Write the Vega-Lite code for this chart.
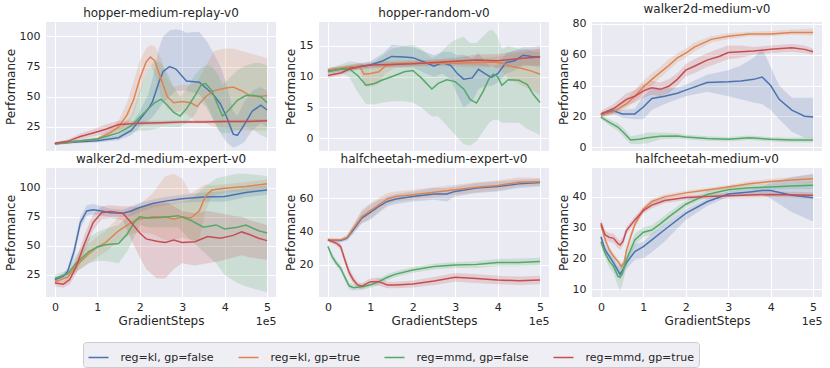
{
"$schema":"https://vega.github.io/schema/vega-lite/v6.json",
"padding":{"left":4,"top":2,"right":6,"bottom":2},
"datasets":{
"names":[{"run":"klF","label":"reg=kl, gp=false"},{"run":"klT","label":"reg=kl, gp=true"},{"run":"mmdF","label":"reg=mmd, gp=false"},{"run":"mmdT","label":"reg=mmd, gp=true"}],
"runs":[
{"env":"hmr","run":"klF","x":0,"y":11,"lo":10,"hi":12},{"env":"hmr","run":"klF","x":0.5,"y":12.5,"lo":11.5,"hi":13.5},{"env":"hmr","run":"klF","x":1,"y":13.5,"lo":12,"hi":15},{"env":"hmr","run":"klF","x":1.5,"y":16,"lo":14,"hi":18},{"env":"hmr","run":"klF","x":1.8,"y":22,"lo":18,"hi":27},{"env":"hmr","run":"klF","x":2,"y":31,"lo":25,"hi":38},{"env":"hmr","run":"klF","x":2.2,"y":40,"lo":30,"hi":52},{"env":"hmr","run":"klF","x":2.3,"y":46,"lo":33,"hi":65},{"env":"hmr","run":"klF","x":2.45,"y":62,"lo":40,"hi":90},{"env":"hmr","run":"klF","x":2.55,"y":71,"lo":45,"hi":100},{"env":"hmr","run":"klF","x":2.7,"y":75,"lo":50,"hi":105},{"env":"hmr","run":"klF","x":2.85,"y":73,"lo":55,"hi":106},{"env":"hmr","run":"klF","x":3,"y":67,"lo":55,"hi":105},{"env":"hmr","run":"klF","x":3.1,"y":63,"lo":55,"hi":103},{"env":"hmr","run":"klF","x":3.4,"y":62,"lo":52,"hi":104},{"env":"hmr","run":"klF","x":3.6,"y":56,"lo":42,"hi":95},{"env":"hmr","run":"klF","x":3.75,"y":51,"lo":30,"hi":85},{"env":"hmr","run":"klF","x":3.9,"y":44,"lo":20,"hi":75},{"env":"hmr","run":"klF","x":4.05,"y":33,"lo":12,"hi":60},{"env":"hmr","run":"klF","x":4.2,"y":19,"lo":8,"hi":38},{"env":"hmr","run":"klF","x":4.3,"y":18,"lo":9,"hi":34},{"env":"hmr","run":"klF","x":4.45,"y":26,"lo":12,"hi":45},{"env":"hmr","run":"klF","x":4.65,"y":38,"lo":22,"hi":55},{"env":"hmr","run":"klF","x":4.85,"y":43,"lo":28,"hi":58},{"env":"hmr","run":"klF","x":5,"y":39,"lo":25,"hi":55},
{"env":"hmr","run":"klT","x":0,"y":11,"lo":10,"hi":12},{"env":"hmr","run":"klT","x":0.5,"y":13,"lo":12,"hi":14},{"env":"hmr","run":"klT","x":1,"y":15,"lo":14,"hi":16},{"env":"hmr","run":"klT","x":1.3,"y":20,"lo":17,"hi":23},{"env":"hmr","run":"klT","x":1.5,"y":25,"lo":20,"hi":30},{"env":"hmr","run":"klT","x":1.7,"y":35,"lo":27,"hi":45},{"env":"hmr","run":"klT","x":1.85,"y":47,"lo":35,"hi":62},{"env":"hmr","run":"klT","x":2,"y":65,"lo":52,"hi":80},{"env":"hmr","run":"klT","x":2.15,"y":79,"lo":68,"hi":90},{"env":"hmr","run":"klT","x":2.25,"y":83,"lo":75,"hi":93},{"env":"hmr","run":"klT","x":2.35,"y":80,"lo":70,"hi":92},{"env":"hmr","run":"klT","x":2.5,"y":65,"lo":50,"hi":82},{"env":"hmr","run":"klT","x":2.65,"y":50,"lo":40,"hi":65},{"env":"hmr","run":"klT","x":2.8,"y":45,"lo":37,"hi":58},{"env":"hmr","run":"klT","x":3,"y":46,"lo":38,"hi":60},{"env":"hmr","run":"klT","x":3.2,"y":45,"lo":33,"hi":60},{"env":"hmr","run":"klT","x":3.35,"y":42,"lo":28,"hi":62},{"env":"hmr","run":"klT","x":3.55,"y":50,"lo":28,"hi":75},{"env":"hmr","run":"klT","x":3.75,"y":55,"lo":25,"hi":88},{"env":"hmr","run":"klT","x":4,"y":57,"lo":24,"hi":90},{"env":"hmr","run":"klT","x":4.2,"y":58,"lo":23,"hi":90},{"env":"hmr","run":"klT","x":4.4,"y":55,"lo":22,"hi":88},{"env":"hmr","run":"klT","x":4.6,"y":51,"lo":22,"hi":86},{"env":"hmr","run":"klT","x":4.8,"y":50,"lo":22,"hi":84},{"env":"hmr","run":"klT","x":5,"y":51,"lo":22,"hi":82},
{"env":"hmr","run":"mmdF","x":0,"y":11,"lo":10,"hi":12},{"env":"hmr","run":"mmdF","x":0.5,"y":13,"lo":12,"hi":14},{"env":"hmr","run":"mmdF","x":1,"y":15,"lo":13.5,"hi":16.5},{"env":"hmr","run":"mmdF","x":1.5,"y":20,"lo":17,"hi":24},{"env":"hmr","run":"mmdF","x":1.8,"y":26,"lo":20,"hi":34},{"env":"hmr","run":"mmdF","x":2,"y":33,"lo":22,"hi":55},{"env":"hmr","run":"mmdF","x":2.2,"y":40,"lo":22,"hi":72},{"env":"hmr","run":"mmdF","x":2.35,"y":45,"lo":23,"hi":80},{"env":"hmr","run":"mmdF","x":2.5,"y":48,"lo":25,"hi":78},{"env":"hmr","run":"mmdF","x":2.65,"y":43,"lo":25,"hi":70},{"env":"hmr","run":"mmdF","x":2.8,"y":37,"lo":25,"hi":58},{"env":"hmr","run":"mmdF","x":2.95,"y":34,"lo":25,"hi":50},{"env":"hmr","run":"mmdF","x":3.1,"y":40,"lo":28,"hi":56},{"env":"hmr","run":"mmdF","x":3.3,"y":51,"lo":35,"hi":68},{"env":"hmr","run":"mmdF","x":3.45,"y":60,"lo":45,"hi":74},{"env":"hmr","run":"mmdF","x":3.55,"y":61,"lo":42,"hi":76},{"env":"hmr","run":"mmdF","x":3.7,"y":55,"lo":33,"hi":75},{"env":"hmr","run":"mmdF","x":3.85,"y":42,"lo":22,"hi":68},{"env":"hmr","run":"mmdF","x":3.95,"y":34,"lo":20,"hi":60},{"env":"hmr","run":"mmdF","x":4.1,"y":39,"lo":20,"hi":65},{"env":"hmr","run":"mmdF","x":4.3,"y":47,"lo":22,"hi":72},{"env":"hmr","run":"mmdF","x":4.5,"y":51,"lo":25,"hi":76},{"env":"hmr","run":"mmdF","x":4.7,"y":51,"lo":22,"hi":78},{"env":"hmr","run":"mmdF","x":4.85,"y":50,"lo":18,"hi":78},{"env":"hmr","run":"mmdF","x":5,"y":45,"lo":16,"hi":76},
{"env":"hmr","run":"mmdT","x":0,"y":11.5,"lo":10.5,"hi":12.5},{"env":"hmr","run":"mmdT","x":0.3,"y":13,"lo":11.5,"hi":14.5},{"env":"hmr","run":"mmdT","x":0.6,"y":17,"lo":14.5,"hi":19.5},{"env":"hmr","run":"mmdT","x":0.9,"y":20,"lo":17,"hi":23},{"env":"hmr","run":"mmdT","x":1.2,"y":23,"lo":19,"hi":27},{"env":"hmr","run":"mmdT","x":1.5,"y":27,"lo":23,"hi":30},{"env":"hmr","run":"mmdT","x":2,"y":28,"lo":26,"hi":30},{"env":"hmr","run":"mmdT","x":2.5,"y":28.5,"lo":27,"hi":30},{"env":"hmr","run":"mmdT","x":3,"y":29,"lo":28,"hi":30.5},{"env":"hmr","run":"mmdT","x":3.5,"y":29,"lo":28,"hi":30.5},{"env":"hmr","run":"mmdT","x":4,"y":29.5,"lo":28.5,"hi":31},{"env":"hmr","run":"mmdT","x":4.5,"y":29.5,"lo":28.5,"hi":31},{"env":"hmr","run":"mmdT","x":5,"y":30,"lo":29,"hi":31.5},
{"env":"hr","run":"klF","x":0,"y":11,"lo":10.6,"hi":11.4},{"env":"hr","run":"klF","x":0.5,"y":11.4,"lo":11,"hi":11.9},{"env":"hr","run":"klF","x":1,"y":11.9,"lo":11.3,"hi":12.5},{"env":"hr","run":"klF","x":1.3,"y":12.6,"lo":11.5,"hi":13.8},{"env":"hr","run":"klF","x":1.5,"y":13.3,"lo":11.5,"hi":15.2},{"env":"hr","run":"klF","x":1.8,"y":13.2,"lo":11.5,"hi":15},{"env":"hr","run":"klF","x":2,"y":13.1,"lo":11.5,"hi":14.8},{"env":"hr","run":"klF","x":2.3,"y":12.3,"lo":10.5,"hi":14},{"env":"hr","run":"klF","x":2.5,"y":11.7,"lo":10,"hi":13.5},{"env":"hr","run":"klF","x":2.7,"y":12.3,"lo":10.5,"hi":14},{"env":"hr","run":"klF","x":2.9,"y":11.8,"lo":9.5,"hi":14},{"env":"hr","run":"klF","x":3.05,"y":10.5,"lo":7,"hi":13.5},{"env":"hr","run":"klF","x":3.2,"y":9.6,"lo":5,"hi":13.6},{"env":"hr","run":"klF","x":3.4,"y":9.8,"lo":6,"hi":13},{"env":"hr","run":"klF","x":3.55,"y":11.2,"lo":8,"hi":13.8},{"env":"hr","run":"klF","x":3.7,"y":10.5,"lo":8.5,"hi":12.5},{"env":"hr","run":"klF","x":3.85,"y":9.9,"lo":8.5,"hi":11.5},{"env":"hr","run":"klF","x":4,"y":10.5,"lo":9,"hi":12},{"env":"hr","run":"klF","x":4.2,"y":12.3,"lo":10.5,"hi":13.8},{"env":"hr","run":"klF","x":4.4,"y":12.6,"lo":11,"hi":14.3},{"env":"hr","run":"klF","x":4.6,"y":13.5,"lo":12,"hi":14.8},{"env":"hr","run":"klF","x":4.8,"y":13.3,"lo":11.8,"hi":14.8},{"env":"hr","run":"klF","x":5,"y":13.2,"lo":11.5,"hi":15},
{"env":"hr","run":"klT","x":0,"y":11.1,"lo":10.8,"hi":11.4},{"env":"hr","run":"klT","x":0.5,"y":11.6,"lo":11.2,"hi":12},{"env":"hr","run":"klT","x":0.75,"y":11.7,"lo":11.2,"hi":12.2},{"env":"hr","run":"klT","x":0.85,"y":10.4,"lo":8.5,"hi":12},{"env":"hr","run":"klT","x":1,"y":10.5,"lo":8.3,"hi":12},{"env":"hr","run":"klT","x":1.2,"y":10.8,"lo":8.8,"hi":12.5},{"env":"hr","run":"klT","x":1.35,"y":11.7,"lo":10.5,"hi":12.5},{"env":"hr","run":"klT","x":1.6,"y":12.1,"lo":11.5,"hi":12.6},{"env":"hr","run":"klT","x":2,"y":12.2,"lo":11.7,"hi":12.7},{"env":"hr","run":"klT","x":2.5,"y":12.2,"lo":11.7,"hi":12.7},{"env":"hr","run":"klT","x":3,"y":12.2,"lo":11.6,"hi":12.8},{"env":"hr","run":"klT","x":3.5,"y":12.3,"lo":11.5,"hi":13},{"env":"hr","run":"klT","x":3.9,"y":12.4,"lo":11.6,"hi":13.2},{"env":"hr","run":"klT","x":4.1,"y":12.2,"lo":10.8,"hi":13.4},{"env":"hr","run":"klT","x":4.3,"y":11.7,"lo":9.5,"hi":13.6},{"env":"hr","run":"klT","x":4.6,"y":11.3,"lo":8.5,"hi":14},{"env":"hr","run":"klT","x":4.8,"y":10.9,"lo":7.8,"hi":14.2},{"env":"hr","run":"klT","x":5,"y":10.4,"lo":7,"hi":14.5},
{"env":"hr","run":"mmdF","x":0,"y":10.8,"lo":10.4,"hi":11.2},{"env":"hr","run":"mmdF","x":0.3,"y":11.2,"lo":10.5,"hi":12},{"env":"hr","run":"mmdF","x":0.5,"y":11.3,"lo":10,"hi":12.5},{"env":"hr","run":"mmdF","x":0.7,"y":10.2,"lo":7.5,"hi":12.3},{"env":"hr","run":"mmdF","x":0.9,"y":8.6,"lo":5.5,"hi":12},{"env":"hr","run":"mmdF","x":1.1,"y":8.9,"lo":5.5,"hi":12.5},{"env":"hr","run":"mmdF","x":1.3,"y":9.5,"lo":5.8,"hi":13.5},{"env":"hr","run":"mmdF","x":1.5,"y":10,"lo":6,"hi":14.5},{"env":"hr","run":"mmdF","x":1.8,"y":10.8,"lo":6,"hi":15},{"env":"hr","run":"mmdF","x":2,"y":11,"lo":5.8,"hi":15.2},{"env":"hr","run":"mmdF","x":2.2,"y":9.8,"lo":5,"hi":14.5},{"env":"hr","run":"mmdF","x":2.45,"y":8,"lo":3.5,"hi":13},{"env":"hr","run":"mmdF","x":2.6,"y":8.9,"lo":3.5,"hi":13.5},{"env":"hr","run":"mmdF","x":2.8,"y":9.5,"lo":2,"hi":15},{"env":"hr","run":"mmdF","x":3,"y":9.2,"lo":0.5,"hi":16},{"env":"hr","run":"mmdF","x":3.2,"y":8,"lo":-1,"hi":16.5},{"env":"hr","run":"mmdF","x":3.35,"y":6.3,"lo":-1.2,"hi":15.5},{"env":"hr","run":"mmdF","x":3.5,"y":5.7,"lo":-0.5,"hi":15.5},{"env":"hr","run":"mmdF","x":3.65,"y":7.5,"lo":1,"hi":16.5},{"env":"hr","run":"mmdF","x":3.8,"y":9.7,"lo":2.5,"hi":17.5},{"env":"hr","run":"mmdF","x":3.9,"y":10.4,"lo":3,"hi":17.5},{"env":"hr","run":"mmdF","x":4,"y":10,"lo":3,"hi":16.5},{"env":"hr","run":"mmdF","x":4.1,"y":8.6,"lo":2.5,"hi":14.5},{"env":"hr","run":"mmdF","x":4.25,"y":9.5,"lo":2.5,"hi":15},{"env":"hr","run":"mmdF","x":4.5,"y":9.4,"lo":2.5,"hi":14.5},{"env":"hr","run":"mmdF","x":4.7,"y":8.7,"lo":1.5,"hi":14.5},{"env":"hr","run":"mmdF","x":4.85,"y":7,"lo":1,"hi":14},{"env":"hr","run":"mmdF","x":5,"y":5.8,"lo":0.5,"hi":14},
{"env":"hr","run":"mmdT","x":0,"y":10.2,"lo":9.8,"hi":10.6},{"env":"hr","run":"mmdT","x":0.3,"y":10.6,"lo":10.2,"hi":11},{"env":"hr","run":"mmdT","x":0.5,"y":11.2,"lo":10.8,"hi":11.6},{"env":"hr","run":"mmdT","x":0.8,"y":11.7,"lo":11.3,"hi":12.1},{"env":"hr","run":"mmdT","x":1,"y":11.9,"lo":11.5,"hi":12.3},{"env":"hr","run":"mmdT","x":1.5,"y":12,"lo":11.6,"hi":12.4},{"env":"hr","run":"mmdT","x":2,"y":12.1,"lo":11.7,"hi":12.5},{"env":"hr","run":"mmdT","x":2.5,"y":12.3,"lo":11.8,"hi":12.8},{"env":"hr","run":"mmdT","x":3,"y":12.5,"lo":11.9,"hi":13.1},{"env":"hr","run":"mmdT","x":3.5,"y":12.7,"lo":11.8,"hi":13.6},{"env":"hr","run":"mmdT","x":4,"y":12.6,"lo":11.5,"hi":13.7},{"env":"hr","run":"mmdT","x":4.3,"y":12.8,"lo":11.5,"hi":14},{"env":"hr","run":"mmdT","x":4.6,"y":13,"lo":11.7,"hi":14.3},{"env":"hr","run":"mmdT","x":5,"y":13.2,"lo":11.8,"hi":14.6},
{"env":"wm","run":"klF","x":0,"y":21,"lo":19.5,"hi":22.5},{"env":"wm","run":"klF","x":0.3,"y":23.5,"lo":21.5,"hi":25.5},{"env":"wm","run":"klF","x":0.5,"y":21.5,"lo":19,"hi":24},{"env":"wm","run":"klF","x":0.8,"y":21.5,"lo":18,"hi":25},{"env":"wm","run":"klF","x":1,"y":26,"lo":18,"hi":33},{"env":"wm","run":"klF","x":1.2,"y":31.5,"lo":24,"hi":38},{"env":"wm","run":"klF","x":1.5,"y":33,"lo":28,"hi":38},{"env":"wm","run":"klF","x":1.8,"y":35,"lo":31,"hi":38.5},{"env":"wm","run":"klF","x":2,"y":37,"lo":33,"hi":40.5},{"env":"wm","run":"klF","x":2.5,"y":42,"lo":36,"hi":47},{"env":"wm","run":"klF","x":3,"y":42.5,"lo":33,"hi":50},{"env":"wm","run":"klF","x":3.3,"y":43,"lo":31,"hi":53},{"env":"wm","run":"klF","x":3.6,"y":44,"lo":29,"hi":58},{"env":"wm","run":"klF","x":3.8,"y":45.5,"lo":28,"hi":64},{"env":"wm","run":"klF","x":4,"y":40,"lo":24,"hi":52},{"env":"wm","run":"klF","x":4.2,"y":31,"lo":18,"hi":40},{"env":"wm","run":"klF","x":4.5,"y":24,"lo":10,"hi":32},{"env":"wm","run":"klF","x":4.8,"y":20,"lo":6,"hi":32},{"env":"wm","run":"klF","x":5,"y":19.5,"lo":6,"hi":32},
{"env":"wm","run":"klT","x":0,"y":21,"lo":19.5,"hi":22.5},{"env":"wm","run":"klT","x":0.3,"y":23,"lo":21,"hi":25},{"env":"wm","run":"klT","x":0.6,"y":28,"lo":25,"hi":31},{"env":"wm","run":"klT","x":0.8,"y":33,"lo":30,"hi":37},{"env":"wm","run":"klT","x":1,"y":39,"lo":35,"hi":43},{"env":"wm","run":"klT","x":1.2,"y":44,"lo":40,"hi":48},{"env":"wm","run":"klT","x":1.4,"y":48.5,"lo":45,"hi":52},{"env":"wm","run":"klT","x":1.6,"y":53,"lo":50,"hi":57},{"env":"wm","run":"klT","x":1.8,"y":58,"lo":55,"hi":61},{"env":"wm","run":"klT","x":2,"y":61,"lo":58,"hi":64},{"env":"wm","run":"klT","x":2.2,"y":65,"lo":62,"hi":68},{"env":"wm","run":"klT","x":2.6,"y":70,"lo":68,"hi":72},{"env":"wm","run":"klT","x":3,"y":72,"lo":70,"hi":74},{"env":"wm","run":"klT","x":3.5,"y":73.5,"lo":72,"hi":75},{"env":"wm","run":"klT","x":4,"y":73.5,"lo":72,"hi":75.5},{"env":"wm","run":"klT","x":4.5,"y":74.5,"lo":73,"hi":76.5},{"env":"wm","run":"klT","x":5,"y":74.5,"lo":72.5,"hi":77},
{"env":"wm","run":"mmdF","x":0,"y":19.5,"lo":18,"hi":21},{"env":"wm","run":"mmdF","x":0.2,"y":16,"lo":14,"hi":18},{"env":"wm","run":"mmdF","x":0.4,"y":13,"lo":10.5,"hi":15.5},{"env":"wm","run":"mmdF","x":0.55,"y":9,"lo":6,"hi":12},{"env":"wm","run":"mmdF","x":0.7,"y":4.5,"lo":2,"hi":7},{"env":"wm","run":"mmdF","x":0.9,"y":5,"lo":2,"hi":8},{"env":"wm","run":"mmdF","x":1.1,"y":6,"lo":2.5,"hi":9.5},{"env":"wm","run":"mmdF","x":1.4,"y":7,"lo":5,"hi":9.5},{"env":"wm","run":"mmdF","x":1.8,"y":7.2,"lo":5.5,"hi":9},{"env":"wm","run":"mmdF","x":2,"y":6.5,"lo":5,"hi":8},{"env":"wm","run":"mmdF","x":2.5,"y":5.5,"lo":4,"hi":7},{"env":"wm","run":"mmdF","x":3,"y":5,"lo":3.5,"hi":6.5},{"env":"wm","run":"mmdF","x":3.5,"y":6,"lo":4.5,"hi":7.5},{"env":"wm","run":"mmdF","x":4,"y":5,"lo":3.5,"hi":6.5},{"env":"wm","run":"mmdF","x":4.5,"y":4.5,"lo":3,"hi":6},{"env":"wm","run":"mmdF","x":5,"y":4.5,"lo":3,"hi":6.5},
{"env":"wm","run":"mmdT","x":0,"y":21.5,"lo":19.5,"hi":23.5},{"env":"wm","run":"mmdT","x":0.3,"y":25,"lo":22,"hi":28},{"env":"wm","run":"mmdT","x":0.6,"y":31,"lo":27,"hi":35},{"env":"wm","run":"mmdT","x":0.8,"y":33,"lo":29,"hi":37},{"env":"wm","run":"mmdT","x":1,"y":36.5,"lo":32,"hi":41},{"env":"wm","run":"mmdT","x":1.2,"y":38.5,"lo":34,"hi":43},{"env":"wm","run":"mmdT","x":1.4,"y":37.5,"lo":33,"hi":42},{"env":"wm","run":"mmdT","x":1.6,"y":39.5,"lo":35,"hi":44},{"env":"wm","run":"mmdT","x":1.8,"y":44,"lo":40,"hi":48},{"env":"wm","run":"mmdT","x":2,"y":50,"lo":46,"hi":54},{"env":"wm","run":"mmdT","x":2.2,"y":52.5,"lo":48,"hi":57},{"env":"wm","run":"mmdT","x":2.5,"y":56.5,"lo":52,"hi":61},{"env":"wm","run":"mmdT","x":2.8,"y":59,"lo":55,"hi":64},{"env":"wm","run":"mmdT","x":3,"y":61.5,"lo":57,"hi":66},{"env":"wm","run":"mmdT","x":3.3,"y":62,"lo":58,"hi":66},{"env":"wm","run":"mmdT","x":3.6,"y":62.5,"lo":60,"hi":65},{"env":"wm","run":"mmdT","x":4,"y":63.5,"lo":61,"hi":66},{"env":"wm","run":"mmdT","x":4.5,"y":64.5,"lo":62,"hi":67},{"env":"wm","run":"mmdT","x":4.8,"y":63.5,"lo":61,"hi":66},{"env":"wm","run":"mmdT","x":5,"y":62,"lo":60,"hi":64},
{"env":"wme","run":"klF","x":0,"y":21,"lo":19,"hi":23},{"env":"wme","run":"klF","x":0.2,"y":24,"lo":22,"hi":26},{"env":"wme","run":"klF","x":0.3,"y":28,"lo":25,"hi":31},{"env":"wme","run":"klF","x":0.45,"y":45,"lo":40,"hi":50},{"env":"wme","run":"klF","x":0.6,"y":70,"lo":65,"hi":75},{"env":"wme","run":"klF","x":0.75,"y":80,"lo":76,"hi":85},{"env":"wme","run":"klF","x":0.9,"y":81,"lo":77,"hi":86},{"env":"wme","run":"klF","x":1.1,"y":80,"lo":76,"hi":84},{"env":"wme","run":"klF","x":1.3,"y":78.5,"lo":75,"hi":82},{"env":"wme","run":"klF","x":1.6,"y":78,"lo":75,"hi":81},{"env":"wme","run":"klF","x":1.8,"y":80,"lo":76,"hi":84},{"env":"wme","run":"klF","x":2,"y":83,"lo":79,"hi":87},{"env":"wme","run":"klF","x":2.3,"y":86.5,"lo":83,"hi":90},{"env":"wme","run":"klF","x":2.6,"y":88.5,"lo":85,"hi":92},{"env":"wme","run":"klF","x":3,"y":90.5,"lo":87,"hi":94},{"env":"wme","run":"klF","x":3.5,"y":92,"lo":88,"hi":96},{"env":"wme","run":"klF","x":4,"y":92.5,"lo":88,"hi":97},{"env":"wme","run":"klF","x":4.5,"y":96,"lo":92,"hi":100},{"env":"wme","run":"klF","x":5,"y":98,"lo":94,"hi":102},
{"env":"wme","run":"klT","x":0,"y":19,"lo":17,"hi":21},{"env":"wme","run":"klT","x":0.3,"y":23,"lo":20,"hi":26},{"env":"wme","run":"klT","x":0.5,"y":33,"lo":27,"hi":39},{"env":"wme","run":"klT","x":0.8,"y":43,"lo":35,"hi":52},{"env":"wme","run":"klT","x":1,"y":49,"lo":40,"hi":58},{"env":"wme","run":"klT","x":1.2,"y":53,"lo":45,"hi":63},{"env":"wme","run":"klT","x":1.5,"y":63,"lo":54,"hi":75},{"env":"wme","run":"klT","x":1.8,"y":70,"lo":60,"hi":82},{"env":"wme","run":"klT","x":2,"y":73,"lo":62,"hi":86},{"env":"wme","run":"klT","x":2.3,"y":75,"lo":60,"hi":95},{"env":"wme","run":"klT","x":2.6,"y":75,"lo":55,"hi":110},{"env":"wme","run":"klT","x":2.8,"y":73,"lo":55,"hi":112},{"env":"wme","run":"klT","x":3,"y":75,"lo":57,"hi":108},{"env":"wme","run":"klT","x":3.2,"y":74,"lo":55,"hi":95},{"env":"wme","run":"klT","x":3.4,"y":80,"lo":55,"hi":100},{"env":"wme","run":"klT","x":3.55,"y":93,"lo":80,"hi":103},{"env":"wme","run":"klT","x":3.7,"y":98,"lo":93,"hi":102},{"env":"wme","run":"klT","x":4,"y":99.5,"lo":96,"hi":103},{"env":"wme","run":"klT","x":4.5,"y":101,"lo":97,"hi":105},{"env":"wme","run":"klT","x":5,"y":103.5,"lo":99,"hi":107},
{"env":"wme","run":"mmdF","x":0,"y":22,"lo":19,"hi":25},{"env":"wme","run":"mmdF","x":0.3,"y":26,"lo":23,"hi":29},{"env":"wme","run":"mmdF","x":0.5,"y":35,"lo":28,"hi":42},{"env":"wme","run":"mmdF","x":0.8,"y":45,"lo":35,"hi":57},{"env":"wme","run":"mmdF","x":1,"y":49,"lo":37,"hi":62},{"env":"wme","run":"mmdF","x":1.2,"y":51,"lo":37,"hi":65},{"env":"wme","run":"mmdF","x":1.5,"y":52,"lo":35,"hi":68},{"env":"wme","run":"mmdF","x":1.7,"y":60,"lo":45,"hi":75},{"env":"wme","run":"mmdF","x":1.9,"y":72,"lo":60,"hi":84},{"env":"wme","run":"mmdF","x":2,"y":75,"lo":68,"hi":83},{"env":"wme","run":"mmdF","x":2.2,"y":74,"lo":66,"hi":85},{"env":"wme","run":"mmdF","x":2.5,"y":74.5,"lo":66,"hi":86},{"env":"wme","run":"mmdF","x":2.9,"y":76,"lo":66,"hi":87},{"env":"wme","run":"mmdF","x":3.2,"y":72,"lo":55,"hi":90},{"env":"wme","run":"mmdF","x":3.5,"y":66,"lo":45,"hi":100},{"env":"wme","run":"mmdF","x":3.8,"y":68,"lo":35,"hi":108},{"env":"wme","run":"mmdF","x":4,"y":64.5,"lo":25,"hi":110},{"env":"wme","run":"mmdF","x":4.3,"y":66,"lo":18,"hi":112},{"env":"wme","run":"mmdF","x":4.5,"y":68,"lo":15,"hi":112},{"env":"wme","run":"mmdF","x":4.8,"y":63,"lo":12,"hi":111},{"env":"wme","run":"mmdF","x":5,"y":61,"lo":10,"hi":110},
{"env":"wme","run":"mmdT","x":0,"y":18,"lo":15,"hi":21},{"env":"wme","run":"mmdT","x":0.2,"y":17,"lo":14,"hi":20},{"env":"wme","run":"mmdT","x":0.35,"y":21,"lo":17,"hi":25},{"env":"wme","run":"mmdT","x":0.5,"y":32,"lo":26,"hi":38},{"env":"wme","run":"mmdT","x":0.7,"y":52,"lo":45,"hi":60},{"env":"wme","run":"mmdT","x":0.9,"y":70,"lo":63,"hi":77},{"env":"wme","run":"mmdT","x":1.1,"y":78.5,"lo":73,"hi":84},{"env":"wme","run":"mmdT","x":1.3,"y":79.5,"lo":74,"hi":85},{"env":"wme","run":"mmdT","x":1.6,"y":78,"lo":72,"hi":84},{"env":"wme","run":"mmdT","x":1.8,"y":70,"lo":55,"hi":84},{"env":"wme","run":"mmdT","x":2,"y":61,"lo":40,"hi":82},{"env":"wme","run":"mmdT","x":2.15,"y":56,"lo":30,"hi":85},{"env":"wme","run":"mmdT","x":2.4,"y":54,"lo":22,"hi":87},{"env":"wme","run":"mmdT","x":2.6,"y":53,"lo":22,"hi":88},{"env":"wme","run":"mmdT","x":2.8,"y":55,"lo":30,"hi":84},{"env":"wme","run":"mmdT","x":3,"y":53,"lo":35,"hi":80},{"env":"wme","run":"mmdT","x":3.3,"y":53.5,"lo":33,"hi":78},{"env":"wme","run":"mmdT","x":3.6,"y":58,"lo":35,"hi":80},{"env":"wme","run":"mmdT","x":3.9,"y":56.5,"lo":37,"hi":78},{"env":"wme","run":"mmdT","x":4.2,"y":59,"lo":40,"hi":76},{"env":"wme","run":"mmdT","x":4.4,"y":62,"lo":42,"hi":75},{"env":"wme","run":"mmdT","x":4.6,"y":59.5,"lo":40,"hi":72},{"env":"wme","run":"mmdT","x":4.8,"y":56.5,"lo":39,"hi":70},{"env":"wme","run":"mmdT","x":5,"y":54.5,"lo":38,"hi":68},
{"env":"hme","run":"klF","x":0,"y":35,"lo":34,"hi":36},{"env":"hme","run":"klF","x":0.3,"y":34.6,"lo":33.5,"hi":35.5},{"env":"hme","run":"klF","x":0.45,"y":36,"lo":34.5,"hi":37.5},{"env":"hme","run":"klF","x":0.6,"y":41,"lo":38.5,"hi":43.5},{"env":"hme","run":"klF","x":0.8,"y":48,"lo":45,"hi":52},{"env":"hme","run":"klF","x":1,"y":51.5,"lo":47,"hi":56},{"env":"hme","run":"klF","x":1.2,"y":55,"lo":51,"hi":59},{"env":"hme","run":"klF","x":1.4,"y":58,"lo":55,"hi":61},{"env":"hme","run":"klF","x":1.6,"y":59.5,"lo":56.5,"hi":62.5},{"env":"hme","run":"klF","x":2,"y":61,"lo":58,"hi":64},{"env":"hme","run":"klF","x":2.5,"y":62.5,"lo":59,"hi":66},{"env":"hme","run":"klF","x":2.8,"y":62.5,"lo":58,"hi":66},{"env":"hme","run":"klF","x":3,"y":64,"lo":61,"hi":67},{"env":"hme","run":"klF","x":3.5,"y":66,"lo":63,"hi":69},{"env":"hme","run":"klF","x":4,"y":67,"lo":64,"hi":70},{"env":"hme","run":"klF","x":4.5,"y":68.5,"lo":66,"hi":71},{"env":"hme","run":"klF","x":5,"y":69.3,"lo":67,"hi":71.5},
{"env":"hme","run":"klT","x":0,"y":35,"lo":34,"hi":36},{"env":"hme","run":"klT","x":0.3,"y":35,"lo":34,"hi":36},{"env":"hme","run":"klT","x":0.45,"y":36.5,"lo":35,"hi":38},{"env":"hme","run":"klT","x":0.6,"y":42,"lo":39.5,"hi":44.5},{"env":"hme","run":"klT","x":0.8,"y":49,"lo":45,"hi":53},{"env":"hme","run":"klT","x":1,"y":52.5,"lo":48,"hi":57},{"env":"hme","run":"klT","x":1.2,"y":56,"lo":52,"hi":60},{"env":"hme","run":"klT","x":1.4,"y":59.5,"lo":56,"hi":63},{"env":"hme","run":"klT","x":1.6,"y":61,"lo":58,"hi":64},{"env":"hme","run":"klT","x":2,"y":62,"lo":59,"hi":65},{"env":"hme","run":"klT","x":2.5,"y":63.5,"lo":60.5,"hi":66.5},{"env":"hme","run":"klT","x":3,"y":65,"lo":62,"hi":68},{"env":"hme","run":"klT","x":3.5,"y":66.5,"lo":63.5,"hi":69.5},{"env":"hme","run":"klT","x":4,"y":67.5,"lo":64.5,"hi":70.5},{"env":"hme","run":"klT","x":4.5,"y":69.5,"lo":67,"hi":72.5},{"env":"hme","run":"klT","x":5,"y":69.7,"lo":67.5,"hi":72},
{"env":"hme","run":"mmdF","x":0,"y":31,"lo":29.5,"hi":32.5},{"env":"hme","run":"mmdF","x":0.1,"y":25,"lo":23,"hi":27},{"env":"hme","run":"mmdF","x":0.2,"y":21,"lo":19,"hi":23},{"env":"hme","run":"mmdF","x":0.3,"y":18,"lo":16,"hi":20},{"env":"hme","run":"mmdF","x":0.4,"y":12.5,"lo":10.5,"hi":14.5},{"env":"hme","run":"mmdF","x":0.5,"y":7.5,"lo":5.5,"hi":9.5},{"env":"hme","run":"mmdF","x":0.6,"y":6.4,"lo":4.5,"hi":8.3},{"env":"hme","run":"mmdF","x":0.8,"y":7,"lo":5.2,"hi":8.8},{"env":"hme","run":"mmdF","x":1,"y":8,"lo":6.2,"hi":9.8},{"env":"hme","run":"mmdF","x":1.2,"y":10,"lo":8.2,"hi":11.8},{"env":"hme","run":"mmdF","x":1.4,"y":12.6,"lo":10.8,"hi":14.4},{"env":"hme","run":"mmdF","x":1.6,"y":14.5,"lo":12.8,"hi":16.2},{"env":"hme","run":"mmdF","x":2,"y":17,"lo":15.3,"hi":18.7},{"env":"hme","run":"mmdF","x":2.5,"y":19,"lo":17.3,"hi":20.7},{"env":"hme","run":"mmdF","x":3,"y":20,"lo":18.2,"hi":21.8},{"env":"hme","run":"mmdF","x":3.5,"y":20.2,"lo":18.2,"hi":22.2},{"env":"hme","run":"mmdF","x":4,"y":21.4,"lo":19.2,"hi":23.6},{"env":"hme","run":"mmdF","x":4.5,"y":21.5,"lo":19.2,"hi":23.8},{"env":"hme","run":"mmdF","x":5,"y":22,"lo":19.7,"hi":24.3},
{"env":"hme","run":"mmdT","x":0,"y":35,"lo":34,"hi":36},{"env":"hme","run":"mmdT","x":0.2,"y":33,"lo":31.5,"hi":34.5},{"env":"hme","run":"mmdT","x":0.3,"y":31,"lo":29,"hi":33},{"env":"hme","run":"mmdT","x":0.4,"y":23,"lo":20.5,"hi":25.5},{"env":"hme","run":"mmdT","x":0.5,"y":15.5,"lo":13,"hi":18},{"env":"hme","run":"mmdT","x":0.6,"y":11,"lo":8.5,"hi":13.5},{"env":"hme","run":"mmdT","x":0.7,"y":8,"lo":6,"hi":10},{"env":"hme","run":"mmdT","x":0.8,"y":7.2,"lo":5.5,"hi":9},{"env":"hme","run":"mmdT","x":1,"y":10,"lo":8,"hi":12},{"env":"hme","run":"mmdT","x":1.2,"y":10,"lo":7.5,"hi":12.5},{"env":"hme","run":"mmdT","x":1.4,"y":8,"lo":6,"hi":10},{"env":"hme","run":"mmdT","x":1.6,"y":8,"lo":6,"hi":10},{"env":"hme","run":"mmdT","x":2,"y":8.6,"lo":6.5,"hi":10.7},{"env":"hme","run":"mmdT","x":2.5,"y":10.4,"lo":8,"hi":12.8},{"env":"hme","run":"mmdT","x":3,"y":12.6,"lo":10,"hi":15.2},{"env":"hme","run":"mmdT","x":3.5,"y":11.8,"lo":9.2,"hi":14.4},{"env":"hme","run":"mmdT","x":4,"y":11,"lo":8.5,"hi":13.5},{"env":"hme","run":"mmdT","x":4.5,"y":10.5,"lo":8,"hi":13},{"env":"hme","run":"mmdT","x":5,"y":11,"lo":8.5,"hi":13.5},
{"env":"hm","run":"klF","x":0,"y":27,"lo":25.5,"hi":28.5},{"env":"hm","run":"klF","x":0.1,"y":22.7,"lo":21,"hi":24.4},{"env":"hm","run":"klF","x":0.2,"y":20.6,"lo":19,"hi":22.2},{"env":"hm","run":"klF","x":0.3,"y":18.4,"lo":16.8,"hi":20},{"env":"hm","run":"klF","x":0.45,"y":14.8,"lo":13,"hi":16.6},{"env":"hm","run":"klF","x":0.52,"y":16.3,"lo":14.5,"hi":18.1},{"env":"hm","run":"klF","x":0.6,"y":18.5,"lo":16.5,"hi":20.5},{"env":"hm","run":"klF","x":0.8,"y":22.2,"lo":19.5,"hi":24.5},{"env":"hm","run":"klF","x":1,"y":23.8,"lo":20,"hi":25.5},{"env":"hm","run":"klF","x":1.2,"y":26,"lo":22,"hi":28},{"env":"hm","run":"klF","x":1.5,"y":29.3,"lo":25.5,"hi":31},{"env":"hm","run":"klF","x":2,"y":34.6,"lo":32.5,"hi":36},{"env":"hm","run":"klF","x":2.5,"y":38.4,"lo":37,"hi":39.5},{"env":"hm","run":"klF","x":3,"y":40.9,"lo":40,"hi":41.8},{"env":"hm","run":"klF","x":3.5,"y":41.6,"lo":40.6,"hi":42.6},{"env":"hm","run":"klF","x":3.8,"y":42.1,"lo":40.8,"hi":43.4},{"env":"hm","run":"klF","x":4,"y":42.1,"lo":39.5,"hi":44.5},{"env":"hm","run":"klF","x":4.5,"y":40.5,"lo":35,"hi":46.5},{"env":"hm","run":"klF","x":5,"y":39.7,"lo":32,"hi":47.5},
{"env":"hm","run":"klT","x":0,"y":30.8,"lo":29.5,"hi":32},{"env":"hm","run":"klT","x":0.1,"y":26,"lo":25,"hi":27},{"env":"hm","run":"klT","x":0.2,"y":22.7,"lo":21.7,"hi":23.7},{"env":"hm","run":"klT","x":0.3,"y":20.6,"lo":19.6,"hi":21.6},{"env":"hm","run":"klT","x":0.4,"y":19,"lo":18,"hi":20},{"env":"hm","run":"klT","x":0.48,"y":17.3,"lo":16.3,"hi":18.3},{"env":"hm","run":"klT","x":0.55,"y":18.5,"lo":17.5,"hi":19.5},{"env":"hm","run":"klT","x":0.6,"y":22.5,"lo":21.3,"hi":23.7},{"env":"hm","run":"klT","x":0.7,"y":27,"lo":25.8,"hi":28.2},{"env":"hm","run":"klT","x":0.8,"y":31,"lo":29.8,"hi":32.2},{"env":"hm","run":"klT","x":1,"y":36,"lo":35,"hi":37},{"env":"hm","run":"klT","x":1.2,"y":38.5,"lo":37.7,"hi":39.3},{"env":"hm","run":"klT","x":1.5,"y":40,"lo":39.2,"hi":40.8},{"env":"hm","run":"klT","x":2,"y":41.3,"lo":40.6,"hi":42},{"env":"hm","run":"klT","x":2.5,"y":42.2,"lo":41.5,"hi":42.9},{"env":"hm","run":"klT","x":3,"y":43.2,"lo":42.5,"hi":43.9},{"env":"hm","run":"klT","x":3.5,"y":44.3,"lo":43.5,"hi":45.1},{"env":"hm","run":"klT","x":4,"y":45,"lo":44.2,"hi":45.8},{"env":"hm","run":"klT","x":4.5,"y":45.5,"lo":44.5,"hi":46.5},{"env":"hm","run":"klT","x":5,"y":45.9,"lo":44.5,"hi":47.3},
{"env":"hm","run":"mmdF","x":0,"y":25.4,"lo":24,"hi":26.8},{"env":"hm","run":"mmdF","x":0.1,"y":21.7,"lo":20,"hi":23.4},{"env":"hm","run":"mmdF","x":0.2,"y":19,"lo":17,"hi":21},{"env":"hm","run":"mmdF","x":0.3,"y":17.3,"lo":15,"hi":19.6},{"env":"hm","run":"mmdF","x":0.4,"y":14.1,"lo":11,"hi":17.2},{"env":"hm","run":"mmdF","x":0.45,"y":13.9,"lo":9.5,"hi":18},{"env":"hm","run":"mmdF","x":0.5,"y":14.8,"lo":11,"hi":18.6},{"env":"hm","run":"mmdF","x":0.6,"y":19.5,"lo":17,"hi":22},{"env":"hm","run":"mmdF","x":0.8,"y":26,"lo":24,"hi":28},{"env":"hm","run":"mmdF","x":1,"y":28.5,"lo":27,"hi":30},{"env":"hm","run":"mmdF","x":1.2,"y":29.2,"lo":27.6,"hi":30.8},{"env":"hm","run":"mmdF","x":1.4,"y":31.2,"lo":29.6,"hi":32.8},{"env":"hm","run":"mmdF","x":1.6,"y":33.5,"lo":32,"hi":35},{"env":"hm","run":"mmdF","x":2,"y":37.6,"lo":36.4,"hi":38.8},{"env":"hm","run":"mmdF","x":2.5,"y":40.8,"lo":39.8,"hi":41.8},{"env":"hm","run":"mmdF","x":3,"y":42.3,"lo":41.4,"hi":43.2},{"env":"hm","run":"mmdF","x":3.5,"y":43,"lo":42.1,"hi":43.9},{"env":"hm","run":"mmdF","x":4,"y":43.2,"lo":42.2,"hi":44.2},{"env":"hm","run":"mmdF","x":4.5,"y":43.5,"lo":42.5,"hi":44.5},{"env":"hm","run":"mmdF","x":5,"y":43.8,"lo":42.6,"hi":45},
{"env":"hm","run":"mmdT","x":0,"y":31.4,"lo":30,"hi":33},{"env":"hm","run":"mmdT","x":0.1,"y":27.6,"lo":26.2,"hi":29},{"env":"hm","run":"mmdT","x":0.2,"y":26.8,"lo":25.4,"hi":28.2},{"env":"hm","run":"mmdT","x":0.3,"y":26.5,"lo":25,"hi":28},{"env":"hm","run":"mmdT","x":0.4,"y":24.8,"lo":23.3,"hi":26.3},{"env":"hm","run":"mmdT","x":0.45,"y":24.3,"lo":22.8,"hi":25.8},{"env":"hm","run":"mmdT","x":0.52,"y":25.5,"lo":24,"hi":27},{"env":"hm","run":"mmdT","x":0.6,"y":29,"lo":27.8,"hi":30.2},{"env":"hm","run":"mmdT","x":0.8,"y":32.5,"lo":31.3,"hi":33.7},{"env":"hm","run":"mmdT","x":1,"y":35.5,"lo":34.5,"hi":36.5},{"env":"hm","run":"mmdT","x":1.2,"y":37.3,"lo":36.3,"hi":38.3},{"env":"hm","run":"mmdT","x":1.5,"y":38.8,"lo":37.9,"hi":39.7},{"env":"hm","run":"mmdT","x":2,"y":39.8,"lo":39,"hi":40.6},{"env":"hm","run":"mmdT","x":2.5,"y":40.1,"lo":39.3,"hi":40.9},{"env":"hm","run":"mmdT","x":3,"y":40.4,"lo":39.5,"hi":41.3},{"env":"hm","run":"mmdT","x":4,"y":40.8,"lo":39.8,"hi":41.8},{"env":"hm","run":"mmdT","x":5,"y":40.5,"lo":39.5,"hi":41.5}
]},
"data":{"name":"runs"},
"transform":[{"lookup":"run","from":{"data":{"name":"names"},"key":"run","fields":["label"]}}],
"columns":3,
"spacing":{"column":8,"row":0},
"config":{
 "font":"DejaVu Sans",
 "view":{"fill":"#EAEAF2","stroke":null},
 "axis":{"grid":true,"gridColor":"#FFFFFF","gridWidth":1,"domain":false,"ticks":false,"tickSize":0,"labelFontSize":11,"labelColor":"#262626","titleFontSize":12,"titleColor":"#262626","titleFontWeight":"normal"},
 "axisY":{"labelPadding":6,"titlePadding":2},
 "axisX":{"labelPadding":4,"titlePadding":3},
 "title":{"fontSize":12,"fontWeight":"normal","color":"#262626","offset":2},
 "legend":{"symbolType":"stroke","symbolStrokeWidth":1.5,"symbolSize":400,"labelFontSize":11,"labelColor":"#262626","labelOffset":11,"columnPadding":21,"fillColor":"#EEEEF4","strokeColor":"#CCCCCC","cornerRadius":3,"padding":4.5}
},
"concat":[
{"width":230,"height":129,"title":"hopper-medium-replay-v0","transform":[{"filter":"datum.env === 'hmr'"}],
 "encoding":{"x":{"field":"x","type":"quantitative","scale":{"domain":[-0.21,5.21],"nice":false,"zero":false},"axis":{"values":[0,1,2,3,4,5],"labels":false,"title":null,"labelPadding":0,"maxExtent":0}}},
 "layer":[
  {"mark":{"type":"area","fillOpacity":0.2},"encoding":{"y":{"field":"lo","type":"quantitative","scale":{"domain":[5,112],"nice":false,"zero":false},"axis":{"values":[25,50,75,100],"title":"Performance"}},"y2":{"field":"hi"},"fill":{"field":"run","type":"nominal","scale":{"domain":["klF","klT","mmdF","mmdT"],"range":["#4C72B0","#DD8452","#55A868","#C44E52"]},"legend":null}}},
  {"mark":{"type":"line","strokeWidth":1.5},"encoding":{"y":{"field":"y","type":"quantitative","axis":{"values":[25,50,75,100],"title":"Performance"}},"color":{"field":"label","type":"nominal","scale":{"domain":["reg=kl, gp=false","reg=kl, gp=true","reg=mmd, gp=false","reg=mmd, gp=true"],"range":["#4C72B0","#DD8452","#55A868","#C44E52"]},"legend":{"title":null,"orient":"none","legendX":37,"legendY":320,"direction":"horizontal","columns":4}}}}
 ]},
{"width":230,"height":129,"title":"hopper-random-v0","transform":[{"filter":"datum.env === 'hr'"}],
 "encoding":{"x":{"field":"x","type":"quantitative","scale":{"domain":[-0.21,5.21],"nice":false,"zero":false},"axis":{"values":[0,1,2,3,4,5],"labels":false,"title":null,"labelPadding":0,"maxExtent":0}}},
 "layer":[
  {"mark":{"type":"area","fillOpacity":0.2},"encoding":{"y":{"field":"lo","type":"quantitative","scale":{"domain":[-2.1,18.9],"nice":false,"zero":false},"axis":{"values":[0,5,10,15],"title":"Performance"}},"y2":{"field":"hi"},"fill":{"field":"run","type":"nominal","legend":null}}},
  {"mark":{"type":"line","strokeWidth":1.5},"encoding":{"y":{"field":"y","type":"quantitative","axis":{"values":[0,5,10,15],"title":"Performance"}},"color":{"field":"label","type":"nominal"}}}
 ]},
{"width":230,"height":129,"title":"walker2d-medium-v0","transform":[{"filter":"datum.env === 'wm'"}],
 "encoding":{"x":{"field":"x","type":"quantitative","scale":{"domain":[-0.21,5.21],"nice":false,"zero":false},"axis":{"values":[0,1,2,3,4,5],"labels":false,"title":null,"labelPadding":0,"maxExtent":0}}},
 "layer":[
  {"mark":{"type":"area","fillOpacity":0.2},"encoding":{"y":{"field":"lo","type":"quantitative","scale":{"domain":[-2.6,81.3],"nice":false,"zero":false},"axis":{"values":[0,20,40,60,80],"title":"Performance"}},"y2":{"field":"hi"},"fill":{"field":"run","type":"nominal","legend":null}}},
  {"mark":{"type":"line","strokeWidth":1.5},"encoding":{"y":{"field":"y","type":"quantitative","axis":{"values":[0,20,40,60,80],"title":"Performance"}},"color":{"field":"label","type":"nominal"}}}
 ]},
{"width":230,"height":129,"title":"walker2d-medium-expert-v0","transform":[{"filter":"datum.env === 'wme'"}],
 "resolve":{"axis":{"x":"independent"}},
 "layer":[
  {"mark":{"type":"area","fillOpacity":0.2},"encoding":{"x":{"field":"x","type":"quantitative","scale":{"domain":[-0.21,5.21],"nice":false,"zero":false},"axis":{"values":[0,1,2,3,4,5],"title":"GradientSteps","orient":"bottom"}},"y":{"field":"lo","type":"quantitative","scale":{"domain":[6,117],"nice":false,"zero":false},"axis":{"values":[25,50,75,100],"title":"Performance"}},"y2":{"field":"hi"},"fill":{"field":"run","type":"nominal","legend":null}}},
  {"mark":{"type":"line","strokeWidth":1.5},"encoding":{"x":{"field":"x","type":"quantitative","axis":{"values":[0,1,2,3,4,5],"title":"1e5","orient":"bottom","grid":false,"labelOpacity":0,"titleAnchor":"end","titleFontSize":11}},"y":{"field":"y","type":"quantitative","axis":{"values":[25,50,75,100],"title":"Performance"}},"color":{"field":"label","type":"nominal"}}}
 ]},
{"width":230,"height":129,"title":"halfcheetah-medium-expert-v0","transform":[{"filter":"datum.env === 'hme'"}],
 "resolve":{"axis":{"x":"independent"}},
 "layer":[
  {"mark":{"type":"area","fillOpacity":0.2},"encoding":{"x":{"field":"x","type":"quantitative","scale":{"domain":[-0.21,5.21],"nice":false,"zero":false},"axis":{"values":[0,1,2,3,4,5],"title":"GradientSteps","orient":"bottom"}},"y":{"field":"lo","type":"quantitative","scale":{"domain":[0.8,78],"nice":false,"zero":false},"axis":{"values":[20,40,60],"title":"Performance"}},"y2":{"field":"hi"},"fill":{"field":"run","type":"nominal","legend":null}}},
  {"mark":{"type":"line","strokeWidth":1.5},"encoding":{"x":{"field":"x","type":"quantitative","axis":{"values":[0,1,2,3,4,5],"title":"1e5","orient":"bottom","grid":false,"labelOpacity":0,"titleAnchor":"end","titleFontSize":11}},"y":{"field":"y","type":"quantitative","axis":{"values":[20,40,60],"title":"Performance"}},"color":{"field":"label","type":"nominal"}}}
 ]},
{"width":230,"height":129,"title":"halfcheetah-medium-v0","transform":[{"filter":"datum.env === 'hm'"}],
 "resolve":{"axis":{"x":"independent"}},
 "layer":[
  {"mark":{"type":"area","fillOpacity":0.2},"encoding":{"x":{"field":"x","type":"quantitative","scale":{"domain":[-0.21,5.21],"nice":false,"zero":false},"axis":{"values":[0,1,2,3,4,5],"title":"GradientSteps","orient":"bottom"}},"y":{"field":"lo","type":"quantitative","scale":{"domain":[7.4,49.4],"nice":false,"zero":false},"axis":{"values":[10,20,30,40],"title":"Performance"}},"y2":{"field":"hi"},"fill":{"field":"run","type":"nominal","legend":null}}},
  {"mark":{"type":"line","strokeWidth":1.5},"encoding":{"x":{"field":"x","type":"quantitative","axis":{"values":[0,1,2,3,4,5],"title":"1e5","orient":"bottom","grid":false,"labelOpacity":0,"titleAnchor":"end","titleFontSize":11}},"y":{"field":"y","type":"quantitative","axis":{"values":[10,20,30,40],"title":"Performance"}},"color":{"field":"label","type":"nominal"}}}
 ]}
]
}
